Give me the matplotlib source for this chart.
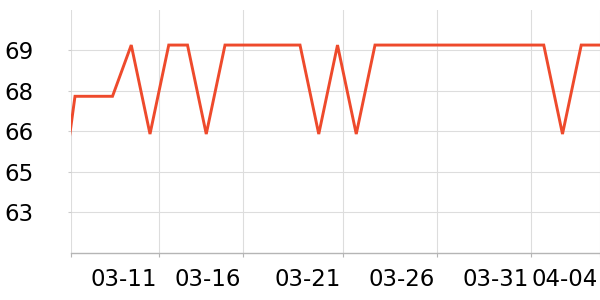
import matplotlib
matplotlib.use("Agg")
import matplotlib.pyplot as plt

# data
x_index = [-1, 0, 1, 2, 3, 4, 5, 6, 7, 8, 9, 10, 11, 12, 13, 14, 15, 16, 17, 18, 19,
           20, 21, 22, 23, 24, 25, 26, 27, 28]
values = [62.2, 67.3, 67.3, 67.3, 69.2, 65.9, 69.2, 69.2, 65.9, 69.2, 69.2, 69.2, 69.2,
          69.2, 65.9, 69.2, 65.9, 69.2, 69.2, 69.2, 69.2, 69.2, 69.2, 69.2, 69.2, 69.2,
          69.2, 65.9, 69.2, 69.2]
x_tick_pos = [-0.24, 4.5, 8.98, 14.31, 19.32, 24.34, 28.0]
x_tick_labels = ["", "03-11", "03-16", "03-21", "03-26", "03-31", "04-04"]
y_ticks = [63, 64.5, 66, 67.5, 69]
y_tick_labels = ["63", "65", "66", "68", "69"]

fig = plt.figure(figsize=(6, 3), dpi=100)
ax = fig.add_axes([70.5 / 600, 1 - 252.7 / 300, 1 - 70.5 / 600, (252.7 - 10) / 300])

ax.plot(x_index, values, color="#ee4a2c", linewidth=2.1, solid_joinstyle="miter", zorder=3)

ax.set_xlim(-0.24, 28.0)
ax.set_ylim(61.5, 70.5)

ax.set_yticks(y_ticks)
ax.set_yticklabels(y_tick_labels)
ax.set_xticks(x_tick_pos)
ax.set_xticklabels(x_tick_labels, ha="right")

ax.grid(True, color="#dddddd", linewidth=0.8)
ax.set_axisbelow(True)

for s in ["top", "right", "left"]:
    ax.spines[s].set_visible(False)
ax.spines["bottom"].set_color("#b5b5b5")
ax.spines["bottom"].set_linewidth(1.0)

ax.tick_params(axis="y", length=2.5, color="#cccccc", pad=24, labelsize=16.5)
ax.tick_params(axis="x", length=3, color="#b5b5b5", pad=8, labelsize=16.5)
for lbl in ax.get_xticklabels():
    lbl.set_transform(lbl.get_transform() + matplotlib.transforms.ScaledTranslation(-2 / 100, 0, fig.dpi_scale_trans))

fig.savefig("out.png", dpi=100)
